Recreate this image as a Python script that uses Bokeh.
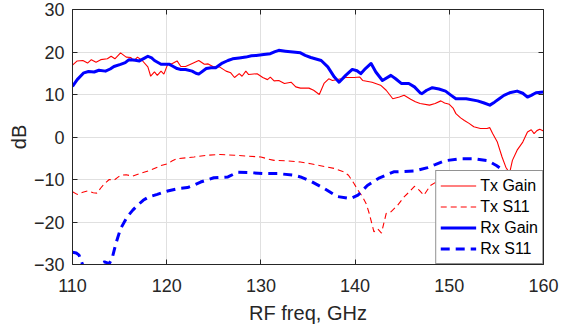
from bokeh.plotting import figure
from bokeh.models import LinearAxis, FixedTicker, Range1d, Legend
from bokeh.embed import file_html
from bokeh.resources import INLINE

# ---- data ----
tx_gain_f = [110.0, 110.5, 111.1, 111.6, 112.0, 112.5, 113.0, 113.7, 114.1, 114.5, 115.1, 115.7,
             116.2, 116.5, 116.9, 117.4, 118.0, 118.3, 118.7, 119.0, 119.4, 119.7, 120.1, 120.6,
             121.1, 121.5, 122.0, 122.6, 123.4, 124.0, 124.4, 124.9, 125.6, 126.3, 126.8, 127.2,
             127.7, 128.0, 128.4, 128.7, 129.6, 130.2, 130.7, 131.0, 131.4, 131.9, 132.5, 133.2,
             133.7, 134.2, 135.1, 135.6, 136.2, 136.7, 137.2, 137.6, 138.5, 139.0, 139.9, 140.5,
             140.8, 141.8, 142.7, 143.3, 144.0, 144.7, 145.2, 145.9, 146.4, 146.9, 147.9, 148.5,
             149.1, 149.5, 150.0, 150.4, 150.7, 151.2, 151.6, 152.1, 152.6, 153.3, 154.0, 154.3,
             154.6, 155.1, 155.6, 156.0, 156.4, 156.7, 157.2, 157.8, 158.3, 158.7, 159.0, 159.3,
             159.6, 160.0]
tx_gain = [16.9, 17.9, 18.0, 17.4, 18.2, 17.6, 18.2, 18.4, 19.0, 18.4, 19.8, 18.8,
           18.7, 17.9, 18.8, 18.0, 16.5, 14.3, 15.3, 14.5, 15.5, 14.8, 17.1, 17.3,
           17.9, 16.6, 16.6, 17.2, 18.0, 17.1, 17.2, 16.6, 16.5, 15.5, 15.1, 14.0,
           14.9, 14.3, 15.5, 14.7, 14.9, 14.0, 13.5, 14.1, 13.2, 13.3, 12.6, 12.9,
           11.8, 11.5, 11.5, 11.0, 10.0, 12.6, 13.7, 13.3, 13.7, 14.0, 14.0, 14.1,
           13.3, 12.9, 12.2, 11.0, 9.0, 9.4, 9.8, 8.9, 8.3, 7.9, 7.5, 7.9,
           8.5, 8.0, 7.7, 6.8, 5.5, 4.5, 3.9, 3.2, 2.4, 2.0, 2.0, 2.2,
           0.8, -1.2, -4.7, -7.1, -8.5, -5.5, -3.1, -1.2, 1.2, 1.7, 0.8, 1.5,
           1.8, 1.4]

tx_s11_f = [110.0, 110.5, 111.1, 111.6, 112.2, 112.6, 113.0, 113.4, 113.9, 114.4, 114.8, 115.1,
            115.7, 116.4, 117.3, 118.3, 119.4, 120.1, 120.6, 121.1, 122.0, 122.9, 124.3, 125.7,
            127.2, 128.6, 130.0, 130.8, 131.4, 132.8, 134.2, 135.3, 136.2, 137.1, 137.8, 138.8,
            139.3, 139.9, 140.3, 140.8, 141.2, 141.5, 142.0, 142.4, 142.8, 143.3, 143.8, 144.5,
            145.2, 145.8, 146.3, 146.8, 147.3, 148.0, 148.6, 149.5, 150.5, 151.5, 152.5, 153.5,
            154.5, 155.5, 156.5, 157.5, 158.5, 159.3, 160.0]
tx_s11 = [-12.9, -13.5, -13.0, -12.7, -13.1, -13.2, -12.0, -11.0, -10.0, -10.2, -9.5, -9.0,
          -8.9, -9.2, -8.5, -7.8, -6.7, -6.3, -5.6, -5.1, -4.9, -4.7, -4.3, -4.1,
          -4.3, -4.5, -4.7, -5.2, -5.5, -5.6, -5.9, -6.3, -6.7, -7.1, -7.4, -8.2,
          -9.0, -11.0, -12.5, -14.1, -15.8, -18.0, -22.3, -21.6, -22.6, -18.0, -17.6, -16.1,
          -14.1, -12.8, -11.6, -12.5, -13.7, -11.4, -10.6, -10.0, -9.5, -9.0, -8.8, -8.5,
          -8.4, -8.3, -8.2, -8.0, -8.1, -7.9, -8.0]

rx_gain_f = [110.0, 110.5, 111.2, 111.7, 112.3, 112.8, 113.5, 114.0, 114.4, 115.1, 115.6, 116.0,
             116.5, 117.1, 117.6, 118.0, 118.4, 118.7, 119.4, 120.3, 120.7, 121.1, 121.5, 122.0,
             122.7, 123.1, 123.4, 124.2, 124.7, 125.2, 125.9, 126.5, 127.0, 127.7, 128.4, 129.0,
             129.5, 130.3, 131.0, 131.5, 131.9, 132.6, 133.4, 134.2, 134.7, 135.3, 136.4, 137.1,
             137.8, 138.3, 139.0, 139.7, 140.2, 140.6, 141.1, 141.7, 142.2, 142.9, 143.8, 144.3,
             144.9, 145.7, 146.3, 146.9, 147.1, 147.6, 148.2, 148.9, 149.6, 150.2, 150.7, 151.8,
             153.0, 153.7, 154.3, 154.8, 155.3, 155.8, 156.4, 157.2, 157.8, 158.3, 158.7, 159.2,
             160.0]
rx_gain = [11.9, 13.5, 15.1, 15.4, 15.3, 15.7, 15.5, 16.0, 16.6, 17.1, 17.5, 18.2,
           18.1, 17.9, 18.5, 19.0, 18.6, 18.0, 17.1, 17.1, 16.6, 16.1, 15.9, 15.9,
           15.5, 15.0, 14.8, 16.1, 16.3, 16.3, 17.4, 18.0, 18.4, 18.6, 18.8, 19.1,
           19.2, 19.4, 19.6, 20.1, 20.4, 20.2, 20.0, 19.8, 19.2, 18.7, 18.0, 16.5,
           14.1, 12.9, 14.5, 15.9, 15.6, 14.9, 16.1, 17.3, 15.3, 13.3, 14.5, 13.7,
           12.6, 12.6, 11.8, 10.4, 10.2, 11.0, 11.6, 11.3, 10.8, 9.8, 9.0, 9.0,
           8.5, 8.0, 7.5, 8.2, 9.0, 9.8, 10.4, 10.8, 10.3, 9.4, 9.8, 10.4,
           10.6]

rx_s11_f = [110.0, 110.4, 110.7, 111.1, 111.5, 112.2, 112.8, 113.4, 113.9, 114.2, 114.6, 115.1,
            115.8, 116.4, 116.9, 117.5, 118.1, 119.0, 120.1, 121.3, 122.2, 123.0, 123.6, 125.0,
            126.5, 127.5, 128.9, 130.3, 131.8, 133.5, 134.2, 135.3, 136.7, 138.1, 139.5, 140.3,
            141.3, 142.6, 144.1, 146.3, 147.7, 148.5, 149.5, 151.2, 152.6, 154.1, 155.0, 155.7,
            156.4, 157.0, 158.0, 159.0, 160.0]
rx_s11 = [-27.1, -27.3, -27.8, -30.2, -31.5, -31.5, -30.0, -29.4, -29.8, -28.6, -25.1, -21.6,
          -18.8, -17.2, -16.1, -14.9, -14.1, -13.5, -12.7, -12.1, -11.9, -11.2, -10.6, -9.6,
          -9.4, -8.3, -8.4, -8.6, -8.6, -9.0, -9.4, -10.4, -12.1, -14.0, -14.5, -13.7,
          -11.4, -9.6, -8.2, -8.0, -7.2, -6.5, -5.6, -5.1, -5.1, -5.6, -6.7, -7.8,
          -8.6, -9.5, -10.5, -11.0, -11.3]

x_ticks = [110, 120, 130, 140, 150, 160]
y_ticks = [-30, -20, -10, 0, 10, 20, 30]
series_labels = ["Tx Gain", "Tx S11", "Rx Gain", "Rx S11"]
x_label = "RF freq, GHz"
y_label = "dB"

# ---- figure ----
FONT = "Liberation Sans"
DARK = "#262626"

p = figure(width=572, height=328, output_backend="svg", toolbar_location=None,
           x_range=Range1d(110, 160), y_range=Range1d(-30, 30),
           min_border_left=72, min_border_right=29, min_border_top=9, min_border_bottom=64)
p.background_fill_color = "white"
p.border_fill_color = "white"
p.outline_line_color = None

r1 = p.line(tx_gain_f, tx_gain, line_color="#ff0000", line_width=1.1)
r2 = p.line(tx_s11_f, tx_s11, line_color="#ff0000", line_width=1.1, line_dash="6 4")
r3 = p.line(rx_gain_f, rx_gain, line_color="#0000ff", line_width=3, line_join="round")
r4 = p.line(rx_s11_f, rx_s11, line_color="#0000ff", line_width=3, line_dash="9 6")

for ax in (p.xaxis[0], p.yaxis[0]):
    ax.major_tick_in = 5
    ax.major_tick_out = 0
    ax.minor_tick_line_color = None
    ax.axis_line_color = DARK
    ax.major_tick_line_color = DARK
    ax.major_label_text_color = DARK
    ax.major_label_text_font = FONT
    ax.major_label_text_font_size = "18px"
    ax.axis_label_text_font = FONT
    ax.axis_label_text_font_size = "20px"
    ax.axis_label_text_font_style = "normal"
    ax.axis_label_text_color = DARK

p.xaxis[0].ticker = FixedTicker(ticks=x_ticks)
p.yaxis[0].ticker = FixedTicker(ticks=y_ticks)
p.xaxis[0].axis_label = x_label
p.yaxis[0].axis_label = y_label
p.xaxis[0].major_label_standoff = 14
p.xaxis[0].axis_label_standoff = 7
p.yaxis[0].major_label_standoff = 8
p.yaxis[0].axis_label_standoff = 1

top_ax = LinearAxis(ticker=FixedTicker(ticks=x_ticks))
right_ax = LinearAxis(ticker=FixedTicker(ticks=y_ticks))
for ax in (top_ax, right_ax):
    ax.major_tick_in = 5
    ax.major_tick_out = 0
    ax.minor_tick_line_color = None
    ax.axis_line_color = DARK
    ax.major_tick_line_color = DARK
    ax.major_label_text_color = None
    ax.major_label_standoff = 0
p.add_layout(top_ax, "above")
p.add_layout(right_ax, "right")

p.xgrid.ticker = FixedTicker(ticks=x_ticks)
p.ygrid.ticker = FixedTicker(ticks=y_ticks)
p.xgrid.grid_line_color = "#e0e0e0"
p.ygrid.grid_line_color = "#e0e0e0"

legend = Legend(items=[(series_labels[0], [r1]), (series_labels[1], [r2]),
                       (series_labels[2], [r3]), (series_labels[3], [r4])],
                location="bottom_right", margin=0, padding=4, spacing=0,
                glyph_width=36, glyph_height=21, label_height=21, label_standoff=4,
                label_text_font=FONT, label_text_font_size="16px", label_text_color="black",
                border_line_color=DARK, border_line_width=1,
                background_fill_color="white", background_fill_alpha=1.0)
p.add_layout(legend, "center")

open("out.html", "w").write(file_html(p, INLINE))
